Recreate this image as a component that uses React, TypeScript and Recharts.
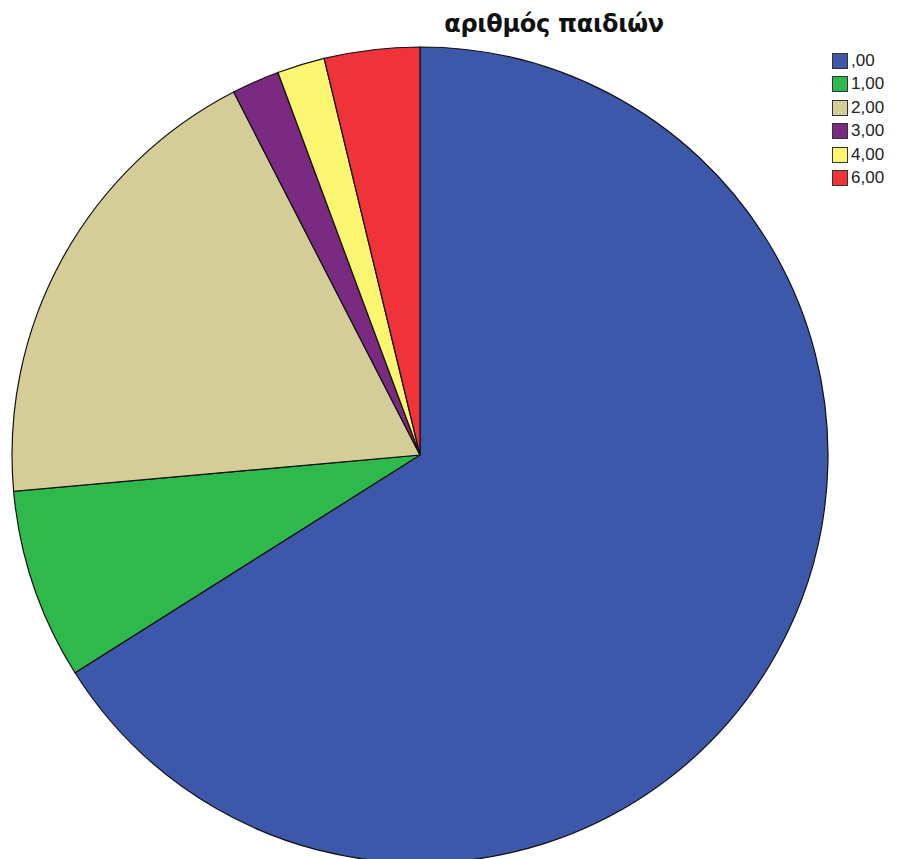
import { PieChart, Pie, Cell, Legend } from 'recharts';

// number of children per respondent, counts per category
const categories = [',00', '1,00', '2,00', '3,00', '4,00', '6,00'];
const counts = [35, 4, 10, 1, 1, 2];
const colors = ['#3d58aa', '#2fb84b', '#d4cd98', '#7b2a82', '#fbf66f', '#ef3339'];

const data = categories.map((name, i) => ({ name, value: counts[i] }));

const LegendBox = () => (
  <div style={{ fontFamily: '"Liberation Sans", Arial, sans-serif', fontSize: 17, color: '#222' }}>
    {categories.map((c, i) => (
      <div key={c} style={{ display: 'flex', alignItems: 'center', height: 23.5 }}>
        <span
          style={{
            display: 'inline-block',
            width: 14,
            height: 14,
            background: colors[i],
            border: '1.5px solid #333',
            marginRight: 3,
          }}
        />
        <span>{c}</span>
      </div>
    ))}
  </div>
);

export default function App() {
  return (
    <div style={{ position: 'absolute', left: 0, top: 0, width: 897, height: 859, background: '#fff', overflow: 'hidden' }}>
      <div
        style={{
          position: 'absolute',
          left: 0,
          width: 1108,
          top: 10,
          textAlign: 'center',
          fontFamily: '"DejaVu Sans", Verdana, sans-serif',
          fontWeight: 'bold',
          fontSize: 24,
          letterSpacing: -0.3,
          color: '#111',
        }}
      >
        αριθμός παιδιών
      </div>
      <PieChart width={897} height={859} margin={{ top: 0, right: 0, bottom: 0, left: 0 }}>
        <Pie
          data={data}
          dataKey="value"
          nameKey="name"
          cx={420}
          cy={455}
          outerRadius={408}
          startAngle={90}
          endAngle={-270}
          stroke="#111"
          strokeWidth={1.2}
          isAnimationActive={false}
        >
          {data.map((d, i) => (
            <Cell key={d.name} fill={colors[i]} />
          ))}
        </Pie>
        <Legend
          layout="vertical"
          align="right"
          verticalAlign="top"
          content={<LegendBox />}
          wrapperStyle={{ left: 832, top: 49, width: 65 }}
        />
      </PieChart>
    </div>
  );
}
